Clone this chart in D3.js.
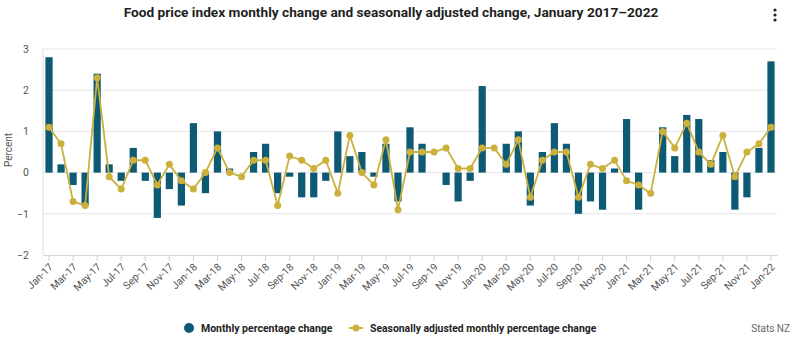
<!DOCTYPE html>
<html>
<head>
<meta charset="utf-8">
<script src="https://cdn.jsdelivr.net/npm/d3@7/dist/d3.min.js"></script>
<style>
  body { margin: 0; background: #fff; }
  svg { display: block; font-family: Roboto, "Noto Sans", sans-serif; }
</style>
</head>
<body>
<div id="chart"></div>
<script>
// Monthly change in the food price index, Jan 2017 to Jan 2022 (percent)
const monthly = [
  2.8, 0.2, -0.3, -0.8, 2.4, 0.2, -0.2, 0.6, -0.2, -1.1, -0.4, -0.8,
  1.2, -0.5, 1.0, 0.1, 0.0, 0.5, 0.7, -0.5, -0.1, -0.6, -0.6, -0.2,
  1.0, 0.4, 0.5, -0.1, 0.7, -0.7, 1.1, 0.7, 0.0, -0.3, -0.7, -0.2,
  2.1, 0.0, 0.7, 1.0, -0.8, 0.5, 1.2, 0.7, -1.0, -0.7, -0.9, 0.1,
  1.3, -0.9, 0.0, 1.1, 0.4, 1.4, 1.3, 0.3, 0.5, -0.9, -0.6, 0.6,
  2.7
];

// Seasonally adjusted monthly change (percent)
const seasonal = [
  1.1, 0.7, -0.7, -0.8, 2.3, -0.1, -0.4, 0.3, 0.3, -0.3, 0.2, -0.2,
  -0.4, 0.0, 0.6, 0.0, -0.1, 0.3, 0.3, -0.8, 0.4, 0.3, 0.1, 0.3,
  -0.5, 0.9, 0.0, -0.3, 0.8, -0.9, 0.5, 0.5, 0.5, 0.6, 0.1, 0.1,
  0.6, 0.6, 0.2, 0.8, -0.6, 0.3, 0.5, 0.5, -0.6, 0.2, 0.1, 0.3,
  -0.2, -0.3, -0.5, 1.0, 0.6, 1.2, 0.5, 0.2, 0.9, -0.1, 0.5, 0.7,
  1.1
];

// Month labels Jan-17 ... Jan-22
const months = d3.timeMonth.range(new Date(2017, 0, 1), new Date(2022, 1, 1))
  .map(d3.timeFormat("%b-%y"));

const yTicks = [-2, -1, 0, 1, 2, 3];

const seriesNames = ["Monthly percentage change", "Seasonally adjusted monthly percentage change"];

const barColor = "#0c5a74";
const lineColor = "#cbb13c";

const width = 800, height = 349;
const plot = { left: 43, right: 777, top: 49, bottom: 255 };

const svg = d3.select("#chart").append("svg")
  .attr("width", width)
  .attr("height", height);

// Title
svg.append("text")
  .attr("x", 391)
  .attr("y", 17)
  .attr("text-anchor", "middle")
  .attr("font-size", "13.7px")
  .attr("font-weight", "bold")
  .attr("fill", "#1f1f1f")
  .text("Food price index monthly change and seasonally adjusted change, January 2017\u20132022");

// menu dots
svg.append("g").selectAll("circle")
  .data([10, 15, 20])
  .join("circle")
  .attr("cx", 775)
  .attr("cy", d => d)
  .attr("r", 1.6)
  .attr("fill", "#222");

const x = d3.scaleBand()
  .domain(months)
  .range([plot.left, plot.right])
  .paddingInner(0.4)
  .paddingOuter(0.2);

const y = d3.scaleLinear()
  .domain([-2, 3])
  .range([plot.bottom, plot.top]);

// gridlines
svg.append("g").selectAll("line")
  .data(yTicks.filter(d => d > -2))
  .join("line")
  .attr("x1", plot.left)
  .attr("x2", plot.right)
  .attr("y1", d => y(d))
  .attr("y2", d => y(d))
  .attr("stroke", "#e6e6e6")
  .attr("stroke-width", 1);

// left axis line
svg.append("line")
  .attr("x1", plot.left).attr("x2", plot.left)
  .attr("y1", plot.top).attr("y2", plot.bottom)
  .attr("stroke", "#dedede");

// y axis labels
const yAxis = svg.append("g")
  .attr("transform", `translate(${plot.left},0)`)
  .call(d3.axisLeft(y).tickValues(yTicks).tickFormat(d3.format("d")).tickSize(0).tickPadding(14));
yAxis.select(".domain").remove();
yAxis.selectAll("text")
  .attr("font-size", "10.5px")
  .attr("font-family", "Roboto, sans-serif")
  .attr("fill", "#555");

svg.append("text")
  .attr("transform", `translate(12,${(plot.top + plot.bottom) / 2 - 2}) rotate(-90)`)
  .attr("text-anchor", "middle")
  .attr("font-size", "10px")
  .attr("fill", "#555")
  .text("Percent");

// x axis, a label on every second month
const xAxis = svg.append("g")
  .attr("transform", `translate(0,${plot.bottom})`)
  .call(d3.axisBottom(x)
    .tickValues(months.filter((d, i) => i % 2 === 0))
    .tickSize(6)
    .tickSizeOuter(0));
xAxis.select(".domain").attr("stroke", "#d6d6d6");
xAxis.selectAll(".tick line").attr("stroke", "#cfcfcf");
xAxis.selectAll("text")
  .attr("font-size", "10.3px")
  .attr("font-family", "Roboto, sans-serif")
  .attr("fill", "#555")
  .attr("text-anchor", "end")
  .attr("x", 0)
  .attr("y", 0)
  .attr("dy", "0.35em")
  .attr("transform", "translate(2,10) rotate(-45)");

// monthly bars
svg.append("g").selectAll("rect")
  .data(monthly)
  .join("rect")
  .attr("x", (d, i) => x(months[i]))
  .attr("width", x.bandwidth())
  .attr("y", d => y(Math.max(0, d)))
  .attr("height", d => Math.abs(y(d) - y(0)))
  .attr("fill", barColor);

// seasonally adjusted line
const line = d3.line()
  .x((d, i) => x(months[i]) + x.bandwidth() / 2)
  .y(d => y(d));

svg.append("path")
  .datum(seasonal)
  .attr("d", line)
  .attr("fill", "none")
  .attr("stroke", lineColor)
  .attr("stroke-width", 1.8);

svg.append("g").selectAll("circle")
  .data(seasonal)
  .join("circle")
  .attr("cx", (d, i) => x(months[i]) + x.bandwidth() / 2)
  .attr("cy", d => y(d))
  .attr("r", 3.5)
  .attr("fill", lineColor);

// legend
const legend = svg.append("g").attr("transform", "translate(0,328)");

legend.append("circle")
  .attr("cx", 189).attr("cy", 0).attr("r", 5)
  .attr("fill", barColor);
legend.append("text")
  .attr("x", 201).attr("y", 4)
  .attr("font-size", "10.5px")
  .attr("font-weight", "bold")
  .attr("fill", "#222")
  .text(seriesNames[0]);

legend.append("line")
  .attr("x1", 349).attr("x2", 363)
  .attr("stroke", lineColor).attr("stroke-width", 2);
legend.append("circle")
  .attr("cx", 356).attr("cy", 0).attr("r", 3.5)
  .attr("fill", lineColor);
legend.append("text")
  .attr("x", 370).attr("y", 4)
  .attr("font-size", "10.4px")
  .attr("font-weight", "bold")
  .attr("fill", "#222")
  .text(seriesNames[1]);

legend.append("text")
  .attr("x", 790).attr("y", 4)
  .attr("text-anchor", "end")
  .attr("font-size", "10px")
  .attr("fill", "#666")
  .text("Stats NZ");
</script>
</body>
</html>
